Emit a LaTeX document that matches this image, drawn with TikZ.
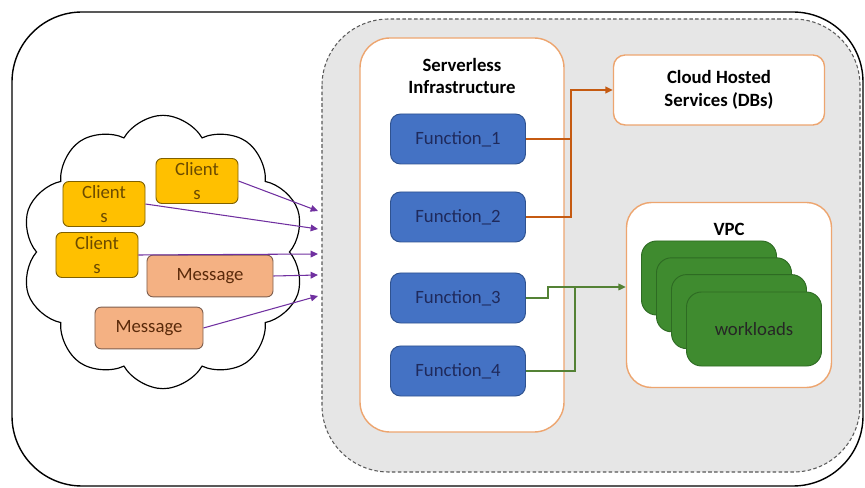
\documentclass[tikz,border=0pt]{standalone}
\usepackage{fontspec}
\setmainfont{Carlito}
\usetikzlibrary{shapes.symbols}
\usetikzlibrary{arrows.meta}
\usetikzlibrary{calc,positioning}

\definecolor{fnblue}{HTML}{4472C4}
\definecolor{fnedge}{HTML}{2F528F}
\definecolor{fntext}{HTML}{1F2A5C}
\definecolor{clyellow}{HTML}{FFC000}
\definecolor{cledge}{HTML}{7F6000}
\definecolor{cltext}{HTML}{6B4A00}
\definecolor{msgfill}{HTML}{F4B183}
\definecolor{msgedge}{HTML}{7F5F4F}
\definecolor{msgtext}{HTML}{5A2A0A}
\definecolor{boxedge}{HTML}{EDA56F}
\definecolor{dbline}{HTML}{C55A11}
\definecolor{wlgreen}{HTML}{3F8B2F}
\definecolor{wledge}{HTML}{2E6B23}
\definecolor{vpcline}{HTML}{548235}
\definecolor{reqline}{HTML}{7030A0}
\definecolor{zonegray}{HTML}{E6E6E6}

\begin{document}
\begin{tikzpicture} [
        x=0.03cm, y=-0.03cm,
        >={Triangle[length=2.2mm,width=2mm]},
        font=\fontsize{16}{19.5}\selectfont,
        func/.style={
            rectangle,
            rounded corners=3mm,
            draw=fnedge,
            fill=fnblue,
            text=fntext,
            line width=0.8pt,
            minimum width=4.05cm,
            minimum height=1.5cm},
        client/.style={
            rectangle,
            align=center,
            rounded corners=1.8mm,
            draw=cledge,
            fill=clyellow,
            text=cltext,
            line width=0.8pt,
            font=\fontsize{16}{20.5}\selectfont,
            minimum width=2.46cm,
            minimum height=1.29cm},
        msg/.style={
            rectangle,
            rounded corners=1.8mm,
            draw=msgedge,
            fill=msgfill,
            text=msgtext,
            line width=0.8pt,
            minimum height=1.25cm},
        frame/.style={
            rectangle,
            draw=boxedge,
            fill=white,
            line width=1.2pt},
        work/.style={
            rectangle,
            rounded corners=4.5mm,
            draw=wledge,
            fill=wlgreen,
            line width=0.8pt,
            minimum width=4.05cm,
            minimum height=2.22cm},
        req/.style={->, draw=reqline, line width=0.9pt}]

    \useasboundingbox (0,0) rectangle (865,488);

    % outer frame and serverless zone
    \draw[line width=1.2pt, rounded corners=2.1cm] (12,12) rectangle (863,486);
    \draw[densely dashed, draw=black!65, fill=zonegray, line width=0.9pt,
        rounded corners=2cm] (322,19) rectangle (860,472);

    % client cloud
    \node[cloud, draw, line width=1pt, cloud puffs=10, cloud puff arc=120,
        minimum width=8.5cm, minimum height=8.2cm] (crowd) at (163,252) {};

    \node[client] (c_a) at (197,181) {Client\\s};
    \node[client] (c_b) at (104,204) {Client\\s};
    \node[client] (c_c) at (97,255) {Client\\s};
    \node[msg, minimum width=3.78cm] (m_a) at (210,276) {Message};
    \node[msg, minimum width=3.24cm] (m_b) at (149,328) {Message};

    % entry points on the zone border
    \coordinate (in1) at (318,211);
    \coordinate (in2) at (318,229);
    \coordinate (in3) at (318,254);
    \coordinate (in4) at (318,275);
    \coordinate (in5) at (318,296);

    \draw[req] (c_a.east) -- (in1);
    \draw[req] (c_b.east) -- (in2);
    \draw[req] (c_c.east) -- (in3);
    \draw[req] (m_a.east) -- (in4);
    \draw[req] (m_b.east) -- (in5);

    % serverless functions
    \node[frame, rounded corners=9mm, minimum width=6.12cm, minimum height=11.82cm]
        (infra) at (462,235) {};
    \node[align=center, font=\fontsize{16}{19}\selectfont\bfseries] (infra_t)
        at (462,76) {Serverless\\Infrastructure};
    \foreach \i/\y in {1/139,2/217,3/298,4/371} {
        \node[func] (f\i) at (458,\y) {Function\_\i};
    }

    % hosted services
    \node[frame, rounded corners=3.5mm, align=center, minimum width=6.33cm,
        minimum height=2.1cm, font=\fontsize{16}{19.5}\selectfont\bfseries]
        (db) at (719,90) {Cloud Hosted\\Services (DBs)};
    \coordinate (j1) at (571,90);
    \draw[draw=dbline, line width=0.9pt] (f1.east) -- (f1.east -| j1);
    \draw[->, draw=dbline, line width=1.6pt] (f2.east) -| (j1) -- (db.west);

    % vpc with workloads
    \node[frame, rounded corners=7.5mm, minimum width=6.15cm, minimum height=5.55cm]
        (vpc) at (729,295) {};
    \node[font=\fontsize{16}{19}\selectfont\bfseries] (vpc_t) at (729,229) {VPC};
    \foreach \k in {0,...,2} {
        \node[work] (w\k) at (709+15*\k, 278+16.8*\k) {};
    }
    \node[work, text=black!85] (w3) at (754,329) {workloads};

    \coordinate (g1) at (548,287);
    \coordinate (g2) at (575,287);
    \draw[->, draw=vpcline, line width=1pt] (f3.east) -| (g1) -- (g1 -| vpc.west);
    \draw[draw=vpcline, line width=1pt] (f4.east) -| (g2);

\end{tikzpicture}
\end{document}
